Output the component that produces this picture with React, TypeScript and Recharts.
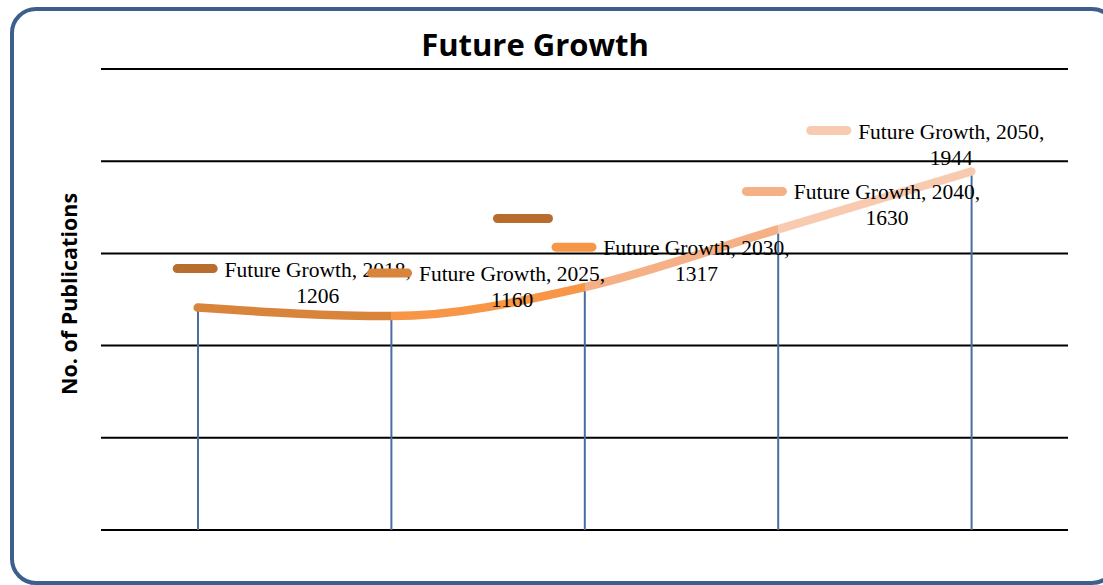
import React from 'react';
import { ComposedChart, Bar, Line, XAxis, YAxis, CartesianGrid } from 'recharts';

const years = ['2018', '2025', '2030', '2040', '2050'];
const publications = [1206, 1160, 1317, 1630, 1944];
const yTicks = [0, 500, 1000, 1500, 2000, 2500];
const seriesName = 'Future Growth';

// colour of each point (and of the segment that ends at it)
const pointColors = ['#b86d2f', '#d9843b', '#f79646', '#f5b085', '#f8cbb1'];
// where each data label sits relative to its point
const labelDx = [-25, -24, -33, -36, -165];
const labelDy = [-39, -43, -40, -38, -41];

const data = years.map((year, i) => ({ year, value: publications[i] }));

function PointLabel(props: any) {
  const { x, y, index, value } = props;
  if (x == null || y == null) return null;
  const mx = x + labelDx[index];
  const my = y + labelDy[index];
  const tx = mx + 52;
  const cx = tx + 93;
  return (
    <g>
      <rect x={mx} y={my - 4.5} width={45} height={9} rx={4.5} fill={pointColors[index]} />
      <text
        x={cx}
        y={my + 8}
        textAnchor='middle'
        fontFamily='"Liberation Serif", serif'
        fontSize={21.5}
        fill='#000'
      >
        {`${seriesName}, ${years[index]},`}
      </text>
      <text
        x={cx}
        y={my + 34}
        textAnchor='middle'
        fontFamily='"Liberation Serif", serif'
        fontSize={21.5}
        fill='#000'
      >
        {value}
      </text>
    </g>
  );
}

const EmptyTick = () => <g />;

export default function App() {
  return (
    <div
      style={{
        position: 'absolute',
        left: 0,
        top: 0,
        width: 1103,
        height: 585,
        background: '#fff',
        overflow: 'hidden',
      }}
    >
      <div
        style={{
          position: 'absolute',
          left: 10,
          top: 7,
          width: 1100,
          height: 570,
          border: '4px solid #3c5f8c',
          borderRadius: 26,
        }}
      />
      <div
        style={{
          position: 'absolute',
          left: 0,
          width: 1070,
          top: 24,
          textAlign: 'center',
          fontFamily: '"Open Sans", sans-serif',
          fontWeight: 700,
          fontSize: 31,
          lineHeight: '40px',
          color: '#000',
        }}
      >
        Future Growth
      </div>
      <div
        style={{
          position: 'absolute',
          left: 68,
          top: 294,
          transform: 'translate(-50%, -50%) rotate(-90deg)',
          whiteSpace: 'nowrap',
          fontFamily: '"Open Sans", sans-serif',
          fontWeight: 700,
          fontSize: 21.5,
          color: '#000',
        }}
      >
        No. of Publications
      </div>
      <div
        style={{
          position: 'absolute',
          left: 493,
          top: 214,
          width: 60,
          height: 9,
          borderRadius: 5,
          background: pointColors[0],
        }}
      />
      <div style={{ position: 'absolute', left: 0, top: 0 }}>
        <ComposedChart
          width={1103}
          height={585}
          data={data}
          margin={{ top: 69, right: 35, bottom: 55, left: 101 }}
        >
          <defs>
            <linearGradient id='segGrad' x1='0' y1='0' x2='1' y2='0'>
              <stop offset='0' stopColor={pointColors[1]} />
              <stop offset='0.25' stopColor={pointColors[1]} />
              <stop offset='0.25' stopColor={pointColors[2]} />
              <stop offset='0.5' stopColor={pointColors[2]} />
              <stop offset='0.5' stopColor={pointColors[3]} />
              <stop offset='0.75' stopColor={pointColors[3]} />
              <stop offset='0.75' stopColor={pointColors[4]} />
              <stop offset='1' stopColor={pointColors[4]} />
            </linearGradient>
          </defs>
          <CartesianGrid vertical={false} stroke='#000' strokeWidth={2} />
          <XAxis dataKey='year' height={0} tick={false} axisLine={false} tickLine={false} />
          <YAxis
            width={0}
            domain={[0, 2500]}
            ticks={yTicks}
            interval={0}
            tick={<EmptyTick />}
            axisLine={false}
            tickLine={false}
          />
          <Bar dataKey='value' barSize={2} fill='#4a6d9e' isAnimationActive={false} />
          <Line
            type='monotone'
            dataKey='value'
            stroke='url(#segGrad)'
            strokeWidth={8.5}
            strokeLinecap='round'
            dot={false}
            activeDot={false}
            isAnimationActive={false}
            label={(p: any) => <PointLabel key={`lbl-${p.index}`} {...p} />}
          />
        </ComposedChart>
      </div>
    </div>
  );
}
